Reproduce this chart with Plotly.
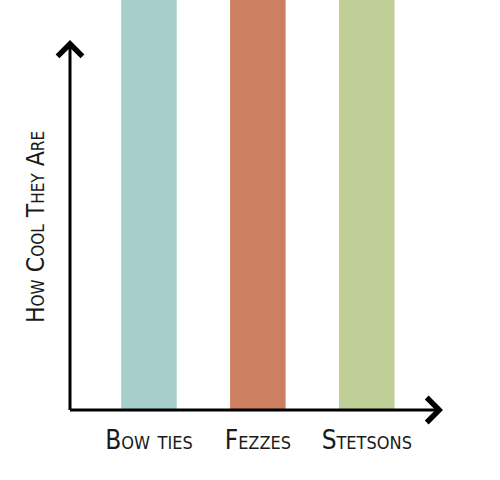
import plotly.graph_objects as go

# data: everything is off the charts cool
items = ["Bow ties", "Fezzes", "Stetsons"]
coolness = [11, 11, 11]
bar_colors = ["#a6cecb", "#cc7f61", "#bfcd97"]

FONT = "Liberation Sans Narrow, DejaVu Sans Condensed, sans-serif"
INK = "#1a1a1a"

fig = go.Figure(
    go.Bar(
        x=items,
        y=coolness,
        width=0.51,
        marker=dict(color=bar_colors, line_width=0),
        hoverinfo="skip",
    )
)

# hand drawn style axes with open arrowheads
arrow = dict(
    text="",
    showarrow=True,
    arrowhead=4,
    arrowsize=1.6,
    arrowwidth=3,
    arrowcolor="black",
    standoff=0,
    xref="paper",
    yref="paper",
    axref="pixel",
    ayref="pixel",
)
fig.add_annotation(x=0, y=1 - 40 / 410, ax=0, ay=371.5, **arrow)  # y axis
fig.add_annotation(x=1, y=0, ax=-374.5, ay=0, **arrow)  # x axis

# y title as a rotated annotation so it sits a bit lower like the original
fig.add_annotation(
    text="How Cool They Are",
    x=0,
    y=1 - 227 / 410,
    xref="paper",
    yref="paper",
    xanchor="center",
    yanchor="middle",
    xshift=-35,
    textangle=-90,
    showarrow=False,
    font=dict(size=24.5, variant="small-caps", family=FONT, color=INK),
)

fig.update_layout(
    width=500,
    height=480,
    margin=dict(l=70, r=57, t=0, b=70),
    plot_bgcolor="white",
    paper_bgcolor="white",
    showlegend=False,
    font=dict(family=FONT, color=INK),
    xaxis=dict(
        range=[-0.725, 2.70],
        showgrid=False,
        zeroline=False,
        showline=False,
        ticks="",
        tickfont=dict(size=26, variant="small-caps"),
        ticklabelstandoff=12,
    ),
    yaxis=dict(
        range=[0, 10],
        showgrid=False,
        zeroline=False,
        showline=False,
        showticklabels=False,
    ),
)

fig.write_html(
    "out.html",
    config={"displayModeBar": False},
    post_script="document.body.style.margin='0';",
)
